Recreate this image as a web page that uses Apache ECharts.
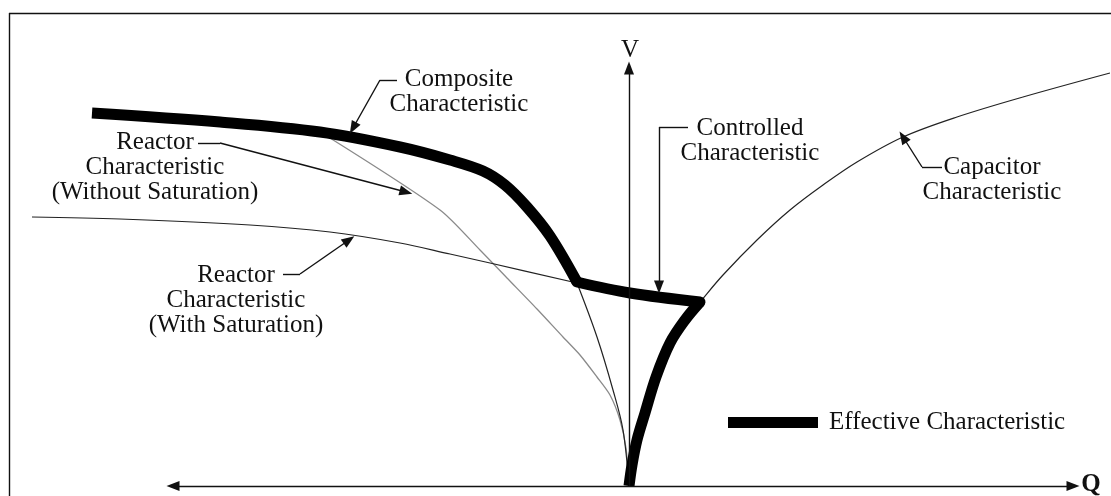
<!DOCTYPE html>
<html>
<head>
<meta charset="utf-8">
<title>SVC V-Q characteristics</title>
<script src="https://cdn.jsdelivr.net/npm/echarts@6/dist/echarts.min.js"></script>
<style>
	html, body { margin:0; padding:0; background:#fff; }
	#main { width:1111px; height:496px; }
</style>
</head>
<body>
<div id="main"></div>
<script>
// readings as [Q, V], origin where the Q and V axes cross
var compositeCurve = [[-537,373],[-409,364],[-309,354],[-229,339],[-179,326],[-146,315],[-124,301],[-102,279],[-79,250],[-52,204]];
var controlledCurve = [[-52,204],[1,193],[71,184]];
var capacitorEffective = [[71,184],[56,166],[41,143],[27,109],[16,73],[8,46],[3,21],[0,0]];
var capacitorCurve = [[0,0],[3,21],[8,46],[16,73],[27,109],[41,143],[56,166],[71,184],[94,211],[128,246],[161,276],[194,301],[228,324],[274,349],[328,369],[394,389],[481,413]];
var reactorSteep = [[-52,203],[-32,149],[-16,96],[-6,56],[0,0]];
var reactorNoSat = [[-307,353],[-189,276],[-149,236],[-122,208],[-92,177],[-66,149],[-49,131],[-32,109],[-19,91],[-9,66],[-3,38],[0,0]];
var reactorSat = [[-597,269],[-509,267],[-379,261],[-299,254],[-229,243],[-179,232],[-139,223],[-52,203]];

var qAxisEnds = [[-456,0],[444,0]];
var vAxisEnds = [[0,0],[0,418]];

var labelTexts = [
	'Composite\nCharacteristic',
	'Reactor\nCharacteristic\n(Without Saturation)',
	'Reactor\nCharacteristic\n(With Saturation)',
	'Controlled\nCharacteristic',
	'Capacitor\nCharacteristic'
];
var labelAt = [[-170,394],[-474,319],[-393,186],[121,345],[363,306]];

// leader lines, last point is where the arrow touches
var leaders = [
	[[-232,406],[-249,406],[-276,358]],
	[[-431,343],[-409,343],[-223,294]],
	[[-346,212],[-329,212],[-280,246]],
	[[59,359],[30,359],[30,199]],
	[[313,319],[293,319],[274,349]]
];

this.svc = this.svc||{};
(function(){
	var FONT = '"Liberation Serif", "Times New Roman", serif';

	var VqChart = function(el){
		this.el = el;
		this.init();
	};
	var p = VqChart.prototype;

	p.init = function(){
		this.chart = echarts.init(this.el, null, {renderer:'canvas'});
		this.chart.setOption(this.buildOption());
	};

	p.curve = function(name, data, color, width, smooth, cap){
		return {
			name: name,
			type: 'line',
			data: data,
			smooth: smooth,
			showSymbol: false,
			symbol: 'none',
			color: color,
			silent: true,
			lineStyle: {color: color, width: width, cap: cap||'butt', join: 'round'}
		};
	};

	p.seg = function(a, b, endSymbol){
		return [
			{coord: a, symbol: 'none'},
			{coord: b, symbol: endSymbol||'none'}
		];
	};

	p.buildMarkLines = function(){
		var cur = this;
		var lines = [];
		// frame round the figure (top and left edge only are inside the picture)
		lines.push(cur.seg([-620,473],[482,473]));
		lines.push(cur.seg([-620,473],[-620,-10]));
		lines.push([
			{coord: qAxisEnds[0], symbol: 'triangle'},
			{coord: qAxisEnds[1], symbol: 'triangle'}
		]);
		lines.push(cur.seg(vAxisEnds[0], vAxisEnds[1], 'triangle'));
		$each(leaders, function(pts){
			for(var i=0;i<pts.length-1;i++){
				lines.push(cur.seg(pts[i], pts[i+1], i == pts.length-2 ? 'triangle' : 'none'));
			}
		});
		return lines;
	};

	p.buildMarkPoints = function(){
		var pts = [];
		$each(labelTexts, function(txt, i){
			pts.push({coord: labelAt[i], label: {formatter: txt}});
		});
		pts.push({coord: [1,436], label: {formatter: 'V'}});
		pts.push({coord: [462,1], label: {formatter: 'Q', fontWeight: 'bold'}});
		return pts;
	};

	p.buildOption = function(){
		var series = [
			this.curve('Reactor Characteristic (Without Saturation)', reactorNoSat, '#8a8a8a', 1.3, 0.25),
			this.curve('Reactor Characteristic (With Saturation)', reactorSat, '#222', 1.2, 0.35),
			this.curve('Reactor Characteristic', reactorSteep, '#222', 1.2, 0.35),
			this.curve('Capacitor Characteristic', capacitorCurve, '#222', 1.2, 0.35),
			{
				name: 'annotations',
				type: 'line',
				data: [],
				silent: true,
				markLine: {
					silent: true,
					animation: false,
					symbolSize: [10,13],
					label: {show: false},
					lineStyle: {color: '#111', width: 1.4, type: 'solid'},
					emphasis: {disabled: true},
					data: this.buildMarkLines()
				},
				markPoint: {
					silent: true,
					animation: false,
					symbol: 'circle',
					symbolSize: 0,
					label: {
						show: true,
						position: 'inside',
						color: '#111',
						fontFamily: FONT,
						fontSize: 25,
						lineHeight: 25,
						align: 'center',
						verticalAlign: 'middle'
					},
					data: this.buildMarkPoints()
				}
			},
			this.curve('Effective Characteristic', compositeCurve, '#000', 11, 0.35, 'butt'),
			this.curve('Effective Characteristic', controlledCurve, '#000', 11, 0.35, 'round'),
			this.curve('Effective Characteristic', capacitorEffective, '#000', 11, 0.35, 'butt')
		];

		return {
			animation: false,
			backgroundColor: '#fff',
			grid: {left: 0, top: 0, right: 0, bottom: 0, show: false},
			xAxis: {type: 'value', min: -629, max: 482, show: false},
			yAxis: {type: 'value', min: -10, max: 486, show: false},
			legend: {
				data: ['Effective Characteristic'],
				left: 728,
				top: 410,
				padding: 0,
				icon: 'rect',
				itemWidth: 90,
				itemHeight: 11,
				selectedMode: false,
				itemStyle: {color: '#000'},
				textStyle: {fontFamily: FONT, fontSize: 25, color: '#111', padding: [0,0,0,6]}
			},
			series: series
		};
	};

	function $each(arr, fn){
		for(var i=0;i<arr.length;i++){ fn(arr[i], i); }
	}

	svc.VqChart = VqChart;
})();

new svc.VqChart(document.getElementById('main'));
</script>
</body>
</html>
